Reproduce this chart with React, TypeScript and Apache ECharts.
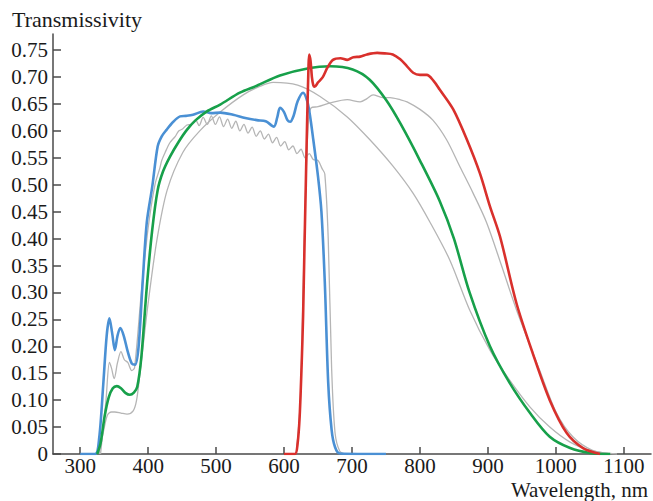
import React, { useEffect, useRef } from "react";
import * as echarts from "echarts";

const xTicks = [300, 400, 500, 600, 700, 800, 900, 1000, 1100];
const yTicks = [0, 0.05, 0.1, 0.15, 0.2, 0.25, 0.3, 0.35, 0.4, 0.45, 0.5, 0.55, 0.6, 0.65, 0.7, 0.75];

const yTitle = "Transmissivity";
const xTitle = "Wavelength, nm";

const blue: [number, number][] = [
  [300, 0], [322, 0], [328, 0.03], [334, 0.13], [339, 0.22], [343, 0.252], [347, 0.225], [351, 0.193],
  [355, 0.22], [359, 0.234], [364, 0.22], [370, 0.19], [376, 0.168], [381, 0.166], [386, 0.2], [392, 0.32],
  [398, 0.43], [406, 0.496], [414, 0.571], [420, 0.59], [427, 0.602], [437, 0.617], [447, 0.627], [456, 0.628],
  [466, 0.63], [481, 0.636], [493, 0.633], [506, 0.634], [525, 0.63], [543, 0.624], [560, 0.62], [573, 0.618],
  [585, 0.608], [590, 0.625], [594, 0.643], [600, 0.635], [605, 0.62], [609, 0.617], [614, 0.628], [620, 0.655],
  [628, 0.671], [634, 0.656], [638, 0.63], [643, 0.584], [650, 0.515], [655, 0.45], [660, 0.318], [665, 0.132],
  [670, 0.045], [675, 0.013], [682, 0.001], [750, 0],
];

const blueRef: [number, number][] = [
  [330, 0], [338, 0.1], [343, 0.17], [346, 0.16], [350, 0.14], [355, 0.17], [360, 0.19], [365, 0.175],
  [370, 0.17], [376, 0.155], [380, 0.16], [390, 0.3], [400, 0.42], [410, 0.5], [417, 0.53], [420, 0.545],
  [425, 0.56], [432, 0.578], [440, 0.59], [445, 0.6], [450, 0.603], [457, 0.611], [463, 0.612], [470, 0.62],
  [475, 0.61], [481, 0.625], [487, 0.612], [493, 0.628], [499, 0.612], [505, 0.626], [511, 0.608], [517, 0.622],
  [523, 0.605], [529, 0.618], [535, 0.6], [541, 0.612], [547, 0.596], [553, 0.607], [559, 0.59], [565, 0.6],
  [571, 0.585], [577, 0.594], [583, 0.578], [589, 0.588], [595, 0.572], [601, 0.58], [607, 0.565], [613, 0.572],
  [619, 0.558], [625, 0.566], [631, 0.55], [637, 0.558], [643, 0.547], [650, 0.545], [656, 0.53], [660, 0.52],
  [665, 0.4], [670, 0.16], [675, 0.04], [682, 0.005], [690, 0],
];

const green: [number, number][] = [
  [325, 0], [330, 0.02], [336, 0.07], [342, 0.105], [348, 0.122], [354, 0.126], [360, 0.122], [367, 0.113],
  [373, 0.11], [379, 0.114], [384, 0.125], [390, 0.18], [398, 0.31], [406, 0.416], [414, 0.49], [422, 0.525],
  [432, 0.552], [445, 0.58], [457, 0.602], [470, 0.62], [486, 0.636], [506, 0.649], [535, 0.671], [560, 0.684],
  [594, 0.703], [638, 0.717], [668, 0.72], [701, 0.714], [726, 0.695], [751, 0.656], [772, 0.612], [800, 0.545],
  [829, 0.47], [850, 0.4], [873, 0.3], [903, 0.2], [932, 0.132], [962, 0.076], [991, 0.032], [1021, 0.011],
  [1050, 0.002], [1080, 0],
];

const greenRef: [number, number][] = [
  [328, 0], [334, 0.04], [340, 0.072], [346, 0.078], [351, 0.078], [360, 0.076], [369, 0.074], [378, 0.08],
  [383, 0.1], [388, 0.15], [400, 0.28], [413, 0.398], [428, 0.49], [451, 0.56], [476, 0.6], [506, 0.635],
  [540, 0.667], [565, 0.683], [584, 0.69], [620, 0.685], [653, 0.664], [693, 0.626], [726, 0.584], [760, 0.535],
  [790, 0.484], [815, 0.43], [844, 0.36], [873, 0.268], [903, 0.193], [932, 0.137], [962, 0.087],
  [991, 0.05], [1021, 0.022], [1050, 0.007], [1080, 0],
];

const red: [number, number][] = [
  [600, 0], [616, 0], [620, 0.02], [623, 0.07], [626, 0.17], [628, 0.255], [630, 0.38], [632, 0.5],
  [634, 0.62], [636, 0.72], [637, 0.742], [639, 0.73], [641, 0.7], [643, 0.685], [645, 0.682], [650, 0.69],
  [657, 0.7], [664, 0.718], [672, 0.732], [683, 0.735], [693, 0.732], [702, 0.737], [712, 0.738], [722, 0.742],
  [737, 0.745], [748, 0.744], [760, 0.742], [771, 0.733], [781, 0.72], [790, 0.708], [800, 0.704], [810, 0.704],
  [820, 0.693], [829, 0.677], [849, 0.64], [869, 0.584], [888, 0.522], [903, 0.46], [918, 0.403], [942, 0.28],
  [966, 0.187], [991, 0.1], [1016, 0.039], [1040, 0.011], [1065, 0],
];

const redRef: [number, number][] = [
  [618, 0], [624, 0.1], [628, 0.3], [632, 0.5], [636, 0.62], [640, 0.643], [650, 0.645], [668, 0.652],
  [693, 0.658], [712, 0.654], [722, 0.66], [731, 0.667], [745, 0.662], [756, 0.662], [771, 0.658], [781, 0.654],
  [800, 0.64], [819, 0.62], [839, 0.584], [859, 0.533], [878, 0.485], [898, 0.43], [920, 0.35], [942, 0.268],
  [976, 0.156], [1001, 0.076], [1025, 0.032], [1054, 0.007], [1090, 0],
];

const FONT = "'Liberation Serif', 'Times New Roman', serif";
const AXIS_COLOR = "#4a4a4a";
const TEXT_COLOR = "#1a1a1a";

function line(data: [number, number][], color: string, width: number, z: number) {
  return {
    type: "line",
    data,
    showSymbol: false,
    smooth: 0.3,
    lineStyle: { color, width },
    z,
    silent: true,
  };
}

export default function App() {
  const ref = useRef<HTMLDivElement>(null);
  useEffect(() => {
    if (!ref.current) return;
    const chart = echarts.init(ref.current, null, { renderer: "svg" });
    chart.setOption({
      animation: false,
      backgroundColor: "#ffffff",
      grid: { left: 53, right: 2, top: 34, bottom: 47, containLabel: false },
      xAxis: {
        type: "value",
        min: 260,
        max: 1140,
        axisLine: { show: true, lineStyle: { color: AXIS_COLOR, width: 1.5 } },
        axisTick: { show: true, inside: true, length: 7, customValues: xTicks, lineStyle: { color: AXIS_COLOR, width: 1.5 } },
        axisLabel: {
          customValues: xTicks,
          fontFamily: FONT,
          fontSize: 21,
          color: TEXT_COLOR,
          margin: 1,
          formatter: (v: number) => String(v),
        },
        splitLine: { show: false },
      },
      yAxis: {
        type: "value",
        min: 0,
        max: 0.78,
        axisLine: { show: true, lineStyle: { color: AXIS_COLOR, width: 1.5 } },
        axisTick: { show: true, inside: true, length: 8, customValues: yTicks, lineStyle: { color: AXIS_COLOR, width: 1.5 } },
        axisLabel: {
          customValues: yTicks,
          fontFamily: FONT,
          fontSize: 21,
          color: TEXT_COLOR,
          margin: 5,
          formatter: (v: number) => (v === 0 ? "0" : v.toFixed(2)),
        },
        splitLine: { show: false },
      },
      graphic: [
        { type: "text", left: 12, top: 8, style: { text: yTitle, font: `22px ${FONT}`, fill: TEXT_COLOR } },
        { type: "text", right: 5, top: 479, style: { text: xTitle, font: `21px ${FONT}`, fill: TEXT_COLOR } },
      ],
      series: [
        line(blueRef, "#b5b5b5", 1.3, 1),
        line(greenRef, "#b5b5b5", 1.3, 1),
        line(redRef, "#b5b5b5", 1.3, 1),
        line(blue, "#4a90d4", 2.6, 2),
        line(green, "#17a04a", 2.6, 3),
        line(red, "#d9302c", 2.6, 4),
      ],
    });
    return () => chart.dispose();
  }, []);
  return <div ref={ref} style={{ position: "fixed", left: 0, top: 0, width: 653, height: 501 }} />;
}
